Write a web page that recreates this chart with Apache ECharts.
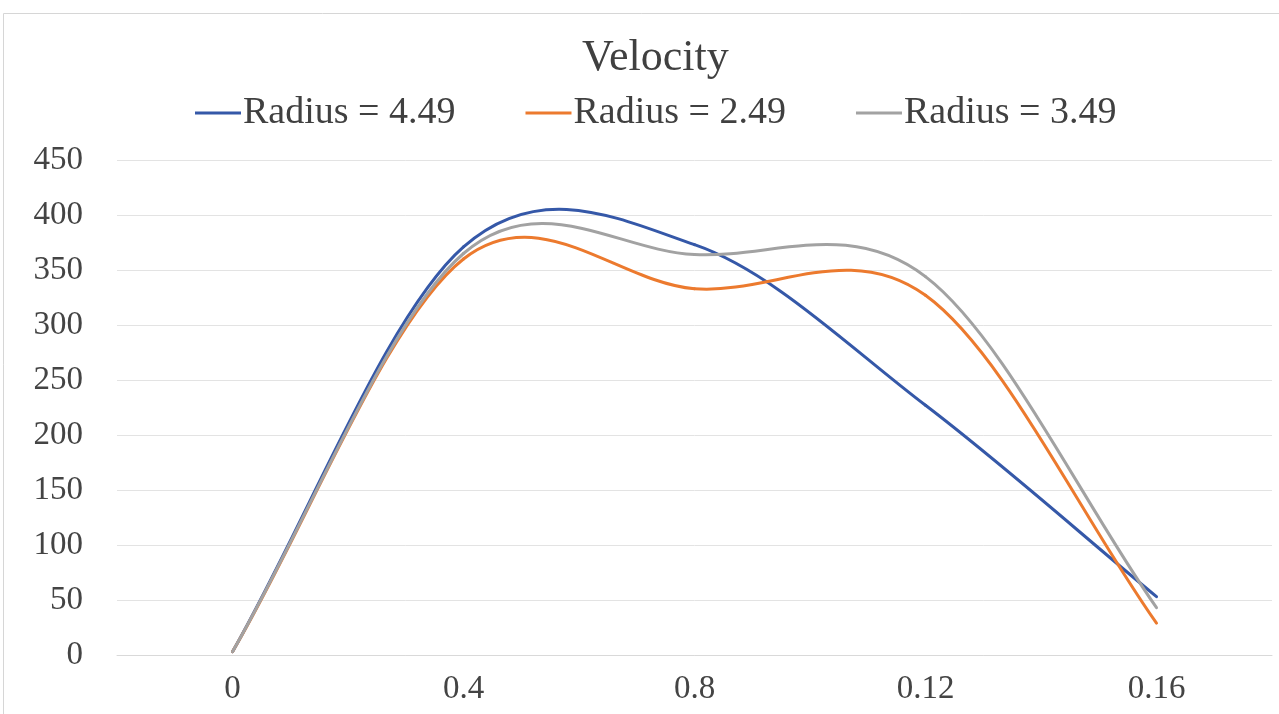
<!DOCTYPE html>
<html>
<head>
<meta charset="utf-8">
<script src="https://cdn.jsdelivr.net/npm/echarts@6/dist/echarts.min.js"></script>
<style>
html,body{margin:0;padding:0;background:#fff;}
#chart{width:1279px;height:714px;}
</style>
</head>
<body>
<div id="chart"></div>
<script>
const categories = ['0', '0.4', '0.8', '0.12', '0.16'];
const seriesNames = ['Radius = 4.49', 'Radius = 2.49', 'Radius = 3.49'];
const radius449 = [3, 371, 373, 227, 53];
const radius249 = [3, 360, 333, 327, 29];
const radius349 = [3, 365, 364, 344, 43];
const yTicks = [0, 50, 100, 150, 200, 250, 300, 350, 400, 450];

const colors = ['#3558a8', '#ec7a2e', '#a2a2a2'];
const font = "'Liberation Serif', 'Times New Roman', serif";

const chart = echarts.init(document.getElementById('chart'));

// Smooth line drawn segment-by-segment (Catmull-Rom style, as in the source spreadsheet chart)
function makeRender(color) {
  return function (params, api) {
    const i = params.dataIndexInside;
    const n = params.dataInsideLength;
    if (i === 0) return null;
    const pt = (j) => api.coord([api.value(0, j), api.value(1, j)]);
    const p0 = pt(i - 1), p1 = pt(i);
    let c1, c2;
    if (i - 2 >= 0) {
      const pp = pt(i - 2);
      c1 = [p0[0] + (p1[0] - pp[0]) / 6, p0[1] + (p1[1] - pp[1]) / 6];
    } else {
      c1 = [p0[0] + (p1[0] - p0[0]) / 3, p0[1] + (p1[1] - p0[1]) / 3];
    }
    if (i + 1 < n) {
      const pn = pt(i + 1);
      c2 = [p1[0] - (pn[0] - p0[0]) / 6, p1[1] - (pn[1] - p0[1]) / 6];
    } else {
      c2 = [p1[0] - (p1[0] - p0[0]) / 3, p1[1] - (p1[1] - p0[1]) / 3];
    }
    return {
      type: 'bezierCurve',
      shape: { x1: p0[0], y1: p0[1], x2: p1[0], y2: p1[1], cpx1: c1[0], cpy1: c1[1], cpx2: c2[0], cpy2: c2[1] },
      style: { stroke: color, lineWidth: 3, fill: null, lineCap: 'round' }
    };
  };
}
const mk = (name, values, color) => ({
  name: name,
  type: 'custom',
  data: values.map((v, k) => [k, v]),
  encode: { x: 0, y: 1 },
  renderItem: makeRender(color),
  itemStyle: { color: color },
  clip: false
});

chart.setOption({
  animation: false,
  backgroundColor: '#ffffff',
  graphic: [{
    type: 'rect',
    shape: { x: 3.5, y: 13.5, width: 1300, height: 720 },
    style: { fill: 'none', stroke: '#d6d6d6', lineWidth: 1 },
    silent: true
  }],
  title: {
    text: 'Velocity',
    left: 577,
    top: 31,
    textStyle: { fontFamily: font, fontSize: 44, fontWeight: 'normal', color: '#404040' }
  },
  legend: {
    data: seriesNames,
    top: 89,
    left: 190,
    itemGap: 70,
    itemWidth: 46,
    itemHeight: 3,
    icon: 'rect',
    textStyle: { fontFamily: font, fontSize: 38, color: '#404040', padding: [0, 0, 0, -3] }
  },
  grid: { left: 117, right: 7, top: 160, bottom: 59, containLabel: false },
  xAxis: {
    type: 'category',
    data: categories,
    boundaryGap: true,
    axisLine: { show: true, lineStyle: { color: '#d9d9d9', width: 1 } },
    axisTick: { show: false },
    axisLabel: { fontFamily: font, fontSize: 33, color: '#444', margin: 18 },
    splitLine: { show: false }
  },
  yAxis: {
    type: 'value',
    min: yTicks[0],
    max: yTicks[yTicks.length - 1],
    interval: 50,
    axisLine: { show: false },
    axisTick: { show: false },
    axisLabel: { fontFamily: font, fontSize: 33, color: '#444', margin: 34 },
    splitLine: { lineStyle: { color: '#e3e3e3', width: 1 } }
  },
  series: [
    mk(seriesNames[0], radius449, colors[0]),
    mk(seriesNames[1], radius249, colors[1]),
    mk(seriesNames[2], radius349, colors[2])
  ]
});
</script>
</body>
</html>
